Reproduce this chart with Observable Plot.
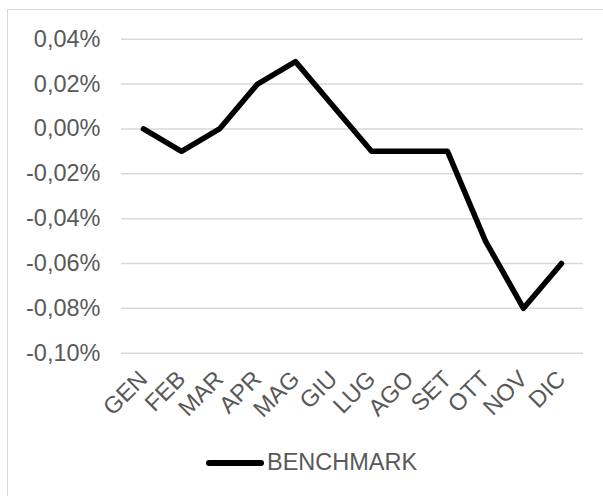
<!DOCTYPE html>
<html>
<head>
<meta charset="utf-8">
<script src="https://cdn.jsdelivr.net/npm/d3@7"></script>
<script src="https://cdn.jsdelivr.net/npm/@observablehq/plot@0.6"></script>
<style>
  html, body { margin: 0; padding: 0; background: #fff; }
  #wrap { position: relative; width: 603px; height: 496px; overflow: hidden; font-family: "Liberation Sans", Arial, sans-serif; }
  #border { position: absolute; left: 7px; top: 9px; width: 700px; height: 700px; border: 1.5px solid #d9d9d9; box-sizing: border-box; }
  #chart { position: absolute; left: 0; top: 0; }
  #legend { position: absolute; left: 205px; top: 449px; display: flex; align-items: center; color: #595959; font-size: 23.5px; }
  #legend span { margin-left: 2px; }
</style>
</head>
<body>
<div id="wrap">
  <div id="border"></div>
  <div id="chart"></div>
  <div id="legend"></div>
</div>
<script>
const months = ["GEN", "FEB", "MAR", "APR", "MAG", "GIU", "LUG", "AGO", "SET", "OTT", "NOV", "DIC"];
const benchmark = [0.00, -0.01, 0.00, 0.02, 0.03, 0.01, -0.01, -0.01, -0.01, -0.05, -0.08, -0.06];
const yTicks = [0.04, 0.02, 0.00, -0.02, -0.04, -0.06, -0.08, -0.10];
const seriesName = "BENCHMARK";

const data = months.map((m, i) => ({month: m, value: benchmark[i]}));
const fmt = d => (Math.abs(d) < 1e-9 ? 0 : d).toFixed(2).replace(".", ",") + "%";

const chart = Plot.plot({
  width: 603,
  height: 496,
  marginLeft: 121,
  marginRight: 20,
  marginTop: 38.7,
  marginBottom: 143.3,
  style: {fontFamily: "Liberation Sans, Arial, sans-serif", fontSize: "23px", color: "#595959", background: "transparent"},
  x: {type: "point", domain: months, padding: 0.5},
  y: {domain: [-0.10, 0.04]},
  marks: [
    Plot.gridY(yTicks, {stroke: "#d9d9d9", strokeOpacity: 1, strokeWidth: 1.5}),
    Plot.axisY(yTicks, {tickSize: 0, tickPadding: 21, tickFormat: fmt, fill: "#595959", fontSize: 23.5, label: null}),
    Plot.axisX(months, {tickSize: 0, tickPadding: 22, tickRotate: -45, fill: "#595959", fontSize: 23.5, label: null}),
    Plot.line(data, {x: "month", y: "value", stroke: "black", strokeWidth: 5.5, strokeLinejoin: "round"})
  ]
});
document.getElementById("chart").appendChild(chart);

const legend = document.getElementById("legend");
legend.innerHTML = `<svg width="60" height="12"><line x1="4" x2="56" y1="6" y2="6" stroke="black" stroke-width="6" stroke-linecap="round"/></svg><span>${seriesName}</span>`;
</script>
</body>
</html>
